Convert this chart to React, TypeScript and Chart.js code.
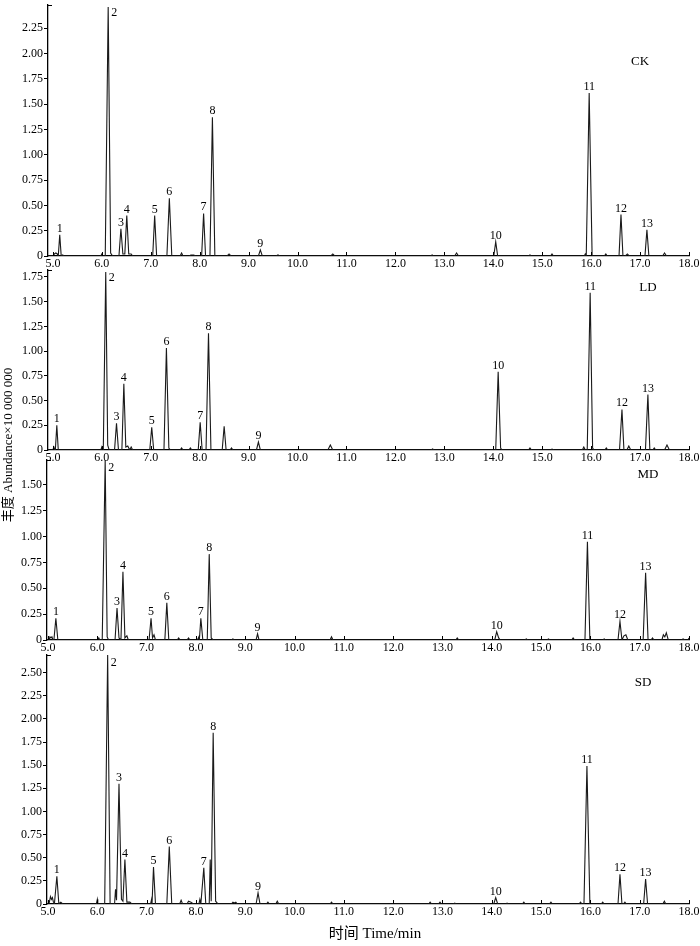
import React, { useEffect, useRef } from 'react';
import { Chart, registerables } from 'chart.js';
Chart.register(...registerables);

// ---------- DATA ----------
const panelNames = ['CK', 'LD', 'MD', 'SD'];
const peakNumbers = ['1', '2', '3', '4', '5', '6', '7', '8', '9', '10', '11', '12', '13'];
const xTickValues = [5, 6, 7, 8, 9, 10, 11, 12, 13, 14, 15, 16, 17, 18];

const ckTicks = [0, 0.25, 0.5, 0.75, 1.0, 1.25, 1.5, 1.75, 2.0, 2.25];
const ldTicks = [0, 0.25, 0.5, 0.75, 1.0, 1.25, 1.5, 1.75];
const mdTicks = [0, 0.25, 0.5, 0.75, 1.0, 1.25, 1.5];
const sdTicks = [0, 0.25, 0.5, 0.75, 1.0, 1.25, 1.5, 1.75, 2.0, 2.25, 2.5];
const yMaxes = [2.48, 1.82, 1.74, 2.69];
const xMins = [4.9, 4.9, 4.98, 4.98];
const xMax = 18.0;

// chromatogram traces: [time (min), abundance (x10 000 000)]
const ckPoints = [
  [4.9, 0], [5.0, 0], [5.03, 0.02], [5.06, 0.03], [5.09, 0.02], [5.11, 0], [5.14, 0.21], [5.17, 0], [5.2, 0.01], [5.23, 0],
  [5.98, 0], [6.0, 0.02], [6.02, 0], [6.07, 0], [6.13, 2.46], [6.18, 0.03], [6.22, 0],
  [6.35, 0], [6.39, 0.27], [6.43, 0.02], [6.47, 0.02], [6.51, 0.4], [6.55, 0.02], [6.6, 0.02], [6.63, 0],
  [7.04, 0], [7.08, 0.4], [7.12, 0],
  [7.33, 0], [7.38, 0.57], [7.43, 0],
  [7.6, 0], [7.63, 0.03], [7.66, 0], [7.78, 0], [7.82, 0.01], [7.88, 0.01], [7.92, 0],
  [8.04, 0], [8.08, 0.42], [8.12, 0],
  [8.21, 0], [8.26, 1.37], [8.31, 0],
  [8.56, 0], [8.6, 0.02], [8.64, 0],
  [9.2, 0], [9.24, 0.06], [9.28, 0],
  [9.56, 0], [9.6, 0.01], [9.64, 0],
  [10.68, 0], [10.72, 0.02], [10.76, 0],
  [12.72, 0], [12.75, 0.01], [12.78, 0],
  [13.21, 0], [13.25, 0.03], [13.29, 0],
  [14.01, 0], [14.05, 0.14], [14.09, 0],
  [14.72, 0], [14.75, 0.01], [14.78, 0],
  [15.17, 0], [15.2, 0.02], [15.23, 0],
  [15.86, 0], [15.88, 0.02], [15.9, 0], [15.96, 1.61], [16.02, 0],
  [16.27, 0], [16.3, 0.02], [16.33, 0],
  [16.57, 0], [16.61, 0.41], [16.65, 0], [16.7, 0], [16.74, 0.02], [16.78, 0],
  [17.1, 0], [17.14, 0.26], [17.18, 0],
  [17.46, 0], [17.5, 0.03], [17.54, 0], [18.0, 0],
];

const ldPoints = [
  [4.9, 0], [5.0, 0], [5.02, 0.03], [5.04, 0], [5.05, 0], [5.08, 0.25], [5.11, 0],
  [5.98, 0], [6.0, 0.03], [6.02, 0], [6.03, 0], [6.08, 1.8], [6.12, 0.05], [6.15, 0],
  [6.26, 0], [6.3, 0.27], [6.34, 0], [6.41, 0], [6.45, 0.67], [6.49, 0.03], [6.53, 0.04], [6.57, 0], [6.6, 0.03], [6.63, 0],
  [6.98, 0], [7.02, 0.23], [7.06, 0],
  [7.27, 0], [7.32, 1.03], [7.37, 0.02], [7.4, 0],
  [7.6, 0], [7.63, 0.02], [7.66, 0], [7.78, 0], [7.81, 0.02], [7.84, 0],
  [7.97, 0], [8.01, 0.28], [8.05, 0],
  [8.13, 0], [8.18, 1.18], [8.23, 0],
  [8.46, 0], [8.5, 0.24], [8.54, 0],
  [8.62, 0], [8.65, 0.02], [8.68, 0],
  [9.16, 0], [9.2, 0.08], [9.24, 0],
  [10.62, 0], [10.67, 0.05], [10.72, 0],
  [12.73, 0], [12.76, 0.01], [12.79, 0],
  [14.05, 0], [14.1, 0.79], [14.15, 0.02], [14.18, 0],
  [14.72, 0], [14.75, 0.02], [14.78, 0],
  [15.17, 0], [15.2, 0.01], [15.25, 0],
  [15.82, 0], [15.85, 0.03], [15.88, 0], [15.92, 0], [15.98, 1.59], [16.03, 0.02], [16.06, 0],
  [16.28, 0], [16.31, 0.02], [16.34, 0],
  [16.58, 0], [16.63, 0.41], [16.67, 0], [16.73, 0], [16.77, 0.04], [16.81, 0],
  [17.11, 0], [17.16, 0.56], [17.2, 0], [17.26, 0], [17.29, 0.02], [17.32, 0],
  [17.5, 0], [17.55, 0.05], [17.6, 0], [18.0, 0],
];

const mdPoints = [
  [4.98, 0], [5.02, 0], [5.04, 0.03], [5.06, 0.02], [5.08, 0.03], [5.1, 0], [5.12, 0], [5.16, 0.21], [5.2, 0],
  [6.0, 0], [6.03, 0.02], [6.05, 0], [6.1, 0], [6.16, 1.74], [6.2, 0.03], [6.23, 0],
  [6.36, 0], [6.4, 0.31], [6.44, 0.02], [6.48, 0], [6.52, 0.66], [6.56, 0.02], [6.6, 0.04], [6.63, 0],
  [7.05, 0], [7.09, 0.21], [7.12, 0.02], [7.15, 0.05], [7.18, 0],
  [7.37, 0], [7.41, 0.36], [7.45, 0],
  [7.62, 0], [7.65, 0.02], [7.68, 0], [7.82, 0], [7.85, 0.02], [7.88, 0],
  [8.03, 0], [8.06, 0.03], [8.07, 0], [8.1, 0.21], [8.14, 0],
  [8.23, 0], [8.27, 0.83], [8.31, 0.02], [8.35, 0],
  [8.72, 0], [8.75, 0.01], [8.78, 0],
  [9.22, 0], [9.25, 0.06], [9.28, 0],
  [10.72, 0], [10.75, 0.03], [10.78, 0],
  [13.27, 0], [13.3, 0.02], [13.33, 0],
  [14.06, 0], [14.1, 0.08], [14.14, 0.02], [14.17, 0],
  [14.67, 0], [14.7, 0.01], [14.73, 0],
  [15.12, 0], [15.15, 0.01], [15.18, 0],
  [15.62, 0], [15.65, 0.02], [15.68, 0], [15.89, 0], [15.94, 0.95], [15.99, 0],
  [16.25, 0], [16.28, 0.01], [16.31, 0],
  [16.56, 0], [16.6, 0.18], [16.64, 0], [16.68, 0.04], [16.72, 0.05], [16.76, 0],
  [17.07, 0], [17.12, 0.65], [17.17, 0], [17.23, 0], [17.26, 0.02], [17.29, 0],
  [17.45, 0], [17.48, 0.05], [17.51, 0.03], [17.54, 0.07], [17.58, 0],
  [17.85, 0], [17.88, 0.01], [17.92, 0], [17.98, 0], [18.0, 0.02],
];

const sdPoints = [
  [4.98, 0], [5.02, 0], [5.05, 0.08], [5.07, 0.05], [5.09, 0.07], [5.11, 0.02], [5.13, 0], [5.18, 0.3], [5.22, 0], [5.26, 0.02], [5.3, 0],
  [5.98, 0], [6.0, 0.05], [6.01, 0], [6.15, 0], [6.21, 2.69], [6.26, 0],
  [6.35, 0], [6.37, 0.16], [6.39, 0.04], [6.44, 1.3], [6.49, 0.05], [6.52, 0.03], [6.56, 0.48], [6.6, 0.02], [6.66, 0.02], [6.7, 0],
  [7.08, 0], [7.1, 0.05], [7.11, 0], [7.14, 0.4], [7.18, 0],
  [7.41, 0], [7.46, 0.62], [7.51, 0],
  [7.67, 0], [7.7, 0.04], [7.73, 0], [7.82, 0], [7.85, 0.03], [7.9, 0.02], [7.95, 0],
  [8.06, 0], [8.08, 0.05], [8.1, 0], [8.16, 0.39], [8.2, 0],
  [8.27, 0], [8.29, 0.48], [8.31, 0.03], [8.35, 1.85], [8.4, 0.03], [8.45, 0],
  [8.72, 0], [8.75, 0.02], [8.78, 0.01], [8.81, 0.02], [8.84, 0],
  [9.22, 0], [9.26, 0.12], [9.3, 0],
  [9.43, 0], [9.46, 0.02], [9.49, 0], [9.62, 0], [9.65, 0.03], [9.68, 0],
  [10.72, 0], [10.75, 0.02], [10.78, 0],
  [12.72, 0], [12.75, 0.02], [12.78, 0], [12.92, 0], [12.95, 0.02], [12.98, 0],
  [13.22, 0], [13.25, 0.01], [13.28, 0],
  [14.04, 0], [14.08, 0.07], [14.12, 0],
  [14.28, 0], [14.31, 0.01], [14.34, 0],
  [14.62, 0], [14.65, 0.02], [14.68, 0],
  [15.17, 0], [15.2, 0.02], [15.23, 0],
  [15.77, 0], [15.8, 0.02], [15.83, 0], [15.87, 0], [15.93, 1.49], [15.99, 0],
  [16.22, 0], [16.25, 0.02], [16.28, 0],
  [16.56, 0], [16.6, 0.32], [16.64, 0], [16.67, 0], [16.7, 0.02], [16.73, 0],
  [17.08, 0], [17.12, 0.27], [17.16, 0],
  [17.47, 0], [17.5, 0.03], [17.53, 0], [18.0, 0],
];

// labelled peak apexes (retention time, abundance)
const ckPeakRt = [5.14, 6.13, 6.39, 6.51, 7.08, 7.38, 8.08, 8.26, 9.24, 14.05, 15.96, 16.61, 17.14];
const ckPeakH = [0.21, 2.46, 0.27, 0.4, 0.4, 0.57, 0.42, 1.37, 0.06, 0.14, 1.61, 0.41, 0.26];
const ldPeakRt = [5.08, 6.08, 6.3, 6.45, 7.02, 7.32, 8.01, 8.18, 9.2, 14.1, 15.98, 16.63, 17.16];
const ldPeakH = [0.25, 1.8, 0.27, 0.67, 0.23, 1.03, 0.28, 1.18, 0.08, 0.79, 1.59, 0.41, 0.56];
const mdPeakRt = [5.16, 6.16, 6.4, 6.52, 7.09, 7.41, 8.1, 8.27, 9.25, 14.1, 15.94, 16.6, 17.12];
const mdPeakH = [0.21, 1.74, 0.31, 0.66, 0.21, 0.36, 0.21, 0.83, 0.06, 0.08, 0.95, 0.18, 0.65];
const sdPeakRt = [5.18, 6.21, 6.44, 6.56, 7.14, 7.46, 8.16, 8.35, 9.26, 14.08, 15.93, 16.6, 17.12];
const sdPeakH = [0.3, 2.69, 1.3, 0.48, 0.4, 0.62, 0.39, 1.85, 0.12, 0.07, 1.49, 0.32, 0.27];

const yTitle = '丰度 Abundance×10 000 000';
const xTitle = '时间 Time/min';

// ---------- LAYOUT (page px) ----------
const W = 700;
const panels = [
  { canvasTop: 0, areaTop: 5, areaBottom: 256, left: 48, nameX: 640, nameY: 62 },
  { canvasTop: 262, areaTop: 270, areaBottom: 450, left: 48, nameX: 648, nameY: 288 },
  { canvasTop: 452, areaTop: 460, areaBottom: 640, left: 47, nameX: 648, nameY: 475 },
  { canvasTop: 647, areaTop: 655, areaBottom: 904, left: 47, nameX: 643, nameY: 683 },
];
const AREA_RIGHT = 689;
const X_AXIS_H = 16;
const SERIF = '"Liberation Serif", "Times New Roman", "Noto Sans CJK SC", serif';

const tracePoints = [ckPoints, ldPoints, mdPoints, sdPoints];
const yTicksAll = [ckTicks, ldTicks, mdTicks, sdTicks];
const peakRts = [ckPeakRt, ldPeakRt, mdPeakRt, sdPeakRt];
const peakHs = [ckPeakH, ldPeakH, mdPeakH, sdPeakH];

function Panel({ idx }: { idx: number }) {
  const ref = useRef<HTMLCanvasElement | null>(null);
  const p = panels[idx];
  const h = p.areaBottom + X_AXIS_H - p.canvasTop;

  useEffect(() => {
    if (!ref.current) return;
    const decor = {
      id: 'decor' + idx,
      afterDraw(chart: any) {
        const ctx = chart.ctx;
        const xs = chart.scales.x;
        const ys = chart.scales.y;
        const area = chart.chartArea;
        ctx.save();
        // inward x ticks
        ctx.strokeStyle = '#000';
        ctx.lineWidth = 1;
        xTickValues.forEach((v) => {
          const px = Math.round(xs.getPixelForValue(v)) + 0.5;
          ctx.beginPath();
          ctx.moveTo(px, area.bottom);
          ctx.lineTo(px, area.bottom - 4);
          ctx.stroke();
        });
        // top cap on y axis
        ctx.beginPath();
        ctx.moveTo(area.left, area.top + 0.5);
        ctx.lineTo(area.left + 4, area.top + 0.5);
        ctx.stroke();
        // peak numbers
        ctx.fillStyle = '#000';
        ctx.font = '12px ' + SERIF;
        const rts = peakRts[idx];
        const hs = peakHs[idx];
        peakNumbers.forEach((lab, i) => {
          const px = xs.getPixelForValue(rts[i]);
          const py = ys.getPixelForValue(hs[i]);
          if (i === 1) {
            ctx.textAlign = 'left';
            ctx.textBaseline = 'middle';
            ctx.fillText(lab, px + 3, area.top + 8);
          } else {
            ctx.textAlign = 'center';
            ctx.textBaseline = 'alphabetic';
            ctx.fillText(lab, px, py - 3);
          }
        });
        // panel name
        ctx.font = '13px ' + SERIF;
        ctx.textAlign = 'center';
        ctx.textBaseline = 'middle';
        ctx.fillText(panelNames[idx], p.nameX, p.nameY - p.canvasTop);
        ctx.restore();
      },
    };

    const chart = new Chart(ref.current, {
      type: 'line',
      data: {
        datasets: [
          {
            label: panelNames[idx],
            data: tracePoints[idx].map(([t, a]) => ({ x: t, y: a })),
            borderColor: '#1a1a1a',
            borderWidth: 1.1,
            pointRadius: 0,
            tension: 0,
            fill: false,
          },
        ],
      },
      options: {
        animation: false,
        responsive: false,
        devicePixelRatio: 1,
        layout: { padding: { top: p.areaTop - p.canvasTop, right: W - AREA_RIGHT, bottom: 0, left: 0 } },
        plugins: { legend: { display: false }, tooltip: { enabled: false }, title: { display: false } },
        scales: {
          x: {
            type: 'linear',
            min: xMins[idx],
            max: xMax,
            grid: { display: false, drawTicks: false },
            border: { display: true, color: '#000', width: 1.3 },
            ticks: {
              color: '#000',
              font: { family: SERIF, size: 12 },
              padding: 1,
              maxRotation: 0,
              autoSkip: false,
              callback: (v: any) => Number(v).toFixed(1),
            },
            afterBuildTicks: (s: any) => {
              s.ticks = xTickValues.map((v) => ({ value: v }));
            },
            afterFit: (s: any) => {
              s.height = X_AXIS_H;
              s.paddingLeft = 0;
              s.paddingRight = 0;
            },
          },
          y: {
            type: 'linear',
            min: 0,
            max: yMaxes[idx],
            grid: { drawOnChartArea: false, drawTicks: true, tickLength: 4, color: '#000' },
            border: { display: true, color: '#000', width: 1.3 },
            ticks: {
              color: '#000',
              font: { family: SERIF, size: 12 },
              padding: 1,
              autoSkip: false,
              callback: (v: any) => (Number(v) === 0 ? '0' : Number(v).toFixed(2)),
            },
            afterBuildTicks: (s: any) => {
              s.ticks = yTicksAll[idx].map((v) => ({ value: v }));
            },
            afterFit: (s: any) => {
              s.width = p.left;
              s.paddingTop = 0;
              s.paddingBottom = 0;
            },
          },
        },
      },
      plugins: [decor],
    });
    return () => chart.destroy();
  }, [idx]);

  return (
    <canvas
      ref={ref}
      width={W}
      height={h}
      style={{ position: 'absolute', left: 0, top: p.canvasTop, width: W, height: h }}
    />
  );
}

export default function App() {
  return (
    <div
      style={{
        position: 'fixed',
        left: 0,
        top: 0,
        width: W,
        height: 946,
        background: '#fff',
        overflow: 'hidden',
      }}
    >
      {panels.map((_, i) => (
        <Panel key={i} idx={i} />
      ))}
      <div
        style={{
          position: 'absolute',
          left: 8 - 150,
          top: 445 - 9,
          width: 300,
          height: 18,
          lineHeight: '18px',
          textAlign: 'center',
          transform: 'rotate(-90deg)',
          transformOrigin: '50% 50%',
          fontFamily: SERIF,
          fontSize: 13,
          color: '#000',
          whiteSpace: 'nowrap',
        }}
      >
        {yTitle}
      </div>
      <div
        style={{
          position: 'absolute',
          left: 375 - 150,
          top: 933 - 9,
          width: 300,
          height: 18,
          lineHeight: '18px',
          textAlign: 'center',
          fontFamily: SERIF,
          fontSize: 15,
          color: '#000',
          whiteSpace: 'nowrap',
        }}
      >
        {xTitle}
      </div>
    </div>
  );
}
